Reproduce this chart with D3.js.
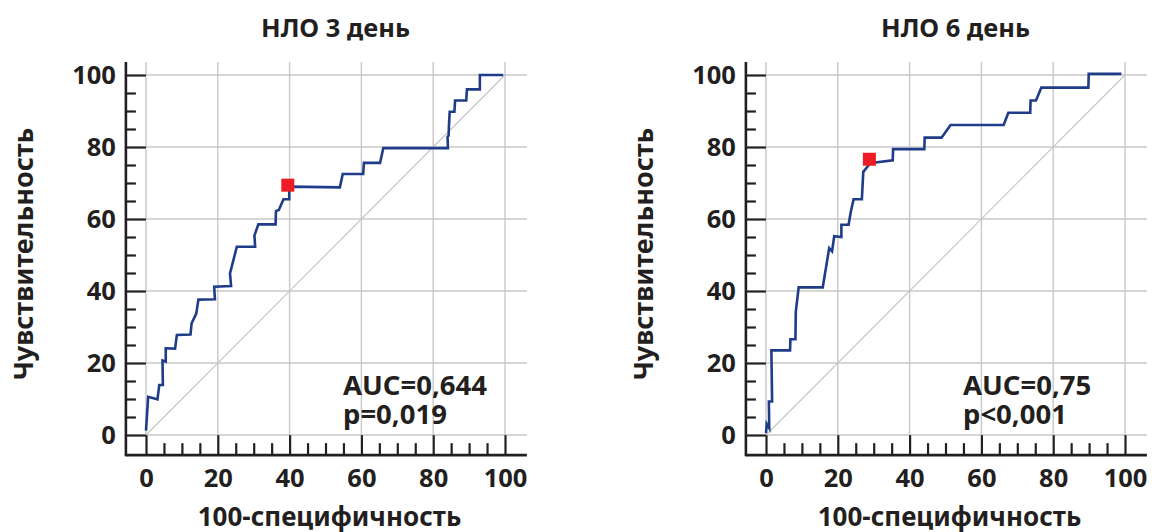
<!DOCTYPE html>
<html><head><meta charset="utf-8">
<script src="https://cdn.jsdelivr.net/npm/d3@7"></script>
<style>
html,body{margin:0;padding:0;background:#fff;}
svg{display:block;}
text{font-family:"Noto Sans","Open Sans",sans-serif;font-weight:700;fill:#231f20;}
</style></head>
<body>
<svg id="chart" width="1152" height="532"></svg>
<script>
// ---- data ----
const titles = ["НЛО 3 день", "НЛО 6 день"];
const xTitle = "100-специфичность";
const yTitle = "Чувствительность";
const majorTicks = [0, 20, 40, 60, 80, 100];
const minorTicks = [5, 10, 15, 25, 30, 35, 45, 50, 55, 65, 70, 75, 85, 90, 95];

const fpr3 = [0, 0.6, 3.2, 3.7, 4.7, 4.6, 5.5, 5.5, 8.1, 8.6, 12.4, 12.7, 14.0, 14.6, 19.2, 19.0, 23.7, 23.4, 25.3, 30.4, 30.2, 31.3, 36.1, 36.2, 37.0, 38.3, 39.9, 39.9, 54.0, 54.8, 60.5, 60.7, 65.2, 66.1, 84.1, 84.0, 84.3, 84.4, 84.6, 85.9, 86.1, 89.2, 89.4, 93.0, 93.0, 99.5];
const tpr3 = [1.2, 10.6, 9.9, 13.9, 13.9, 20.7, 20.4, 24.1, 24.0, 27.8, 27.9, 31.0, 33.7, 37.6, 37.7, 41.2, 41.4, 44.9, 52.3, 52.3, 55.4, 58.5, 58.5, 62.2, 62.5, 65.5, 65.5, 69.0, 68.8, 72.5, 72.5, 75.6, 75.6, 79.7, 79.7, 82.8, 83.2, 86.2, 89.8, 89.8, 92.9, 92.9, 96.0, 96.0, 100, 100];

const fpr6 = [0, 0.2, 0.9, 0.8, 1.7, 1.5, 6.7, 6.8, 8.2, 8.3, 9.1, 15.8, 17.6, 18.4, 19.0, 21.0, 21.0, 23.0, 23.6, 24.4, 26.7, 27.1, 28.8, 30.4, 35.3, 35.4, 44.1, 44.2, 48.9, 51.4, 66.2, 67.5, 73.6, 73.7, 75.2, 76.7, 89.8, 89.9, 99.0];
const tpr6 = [0.5, 3.1, 1.9, 9.3, 9.3, 23.5, 23.5, 26.6, 26.6, 34.3, 41.0, 41.0, 51.9, 51.0, 55.2, 55.0, 58.4, 58.4, 61.9, 65.5, 65.5, 73.1, 75.2, 75.7, 76.3, 79.4, 79.4, 82.6, 82.6, 86.1, 86.1, 89.5, 89.5, 92.9, 92.9, 96.5, 96.5, 100.3, 100.3];

const cutX = [39.5, 28.8];
const cutY = [69.4, 76.6];
const aucText = ["AUC=0,644", "AUC=0,75"];
const pText = ["p=0,019", "p<0,001"];

const fprs = [fpr3, fpr6];
const tprs = [tpr3, tpr6];

// ---- layout ----
const svg = d3.select("#chart");
const panelOffsets = [0, 620];
const xExtent = [-5.6, 106.1];
const yExtent = [-5.6, 103.6];
const ink = "#231f20";
const gridColor = "#c8c8c8";

panelOffsets.forEach((off, i) => {
  const x = d3.scaleLinear().domain([0, 100]).range([146 + off, 505 + off]);
  const y = d3.scaleLinear().domain([0, 100]).range([435, 75]);
  const g = svg.append("g");

  // grid
  g.append("g").selectAll("line.v").data(majorTicks).join("line")
    .attr("x1", d => x(d)).attr("x2", d => x(d))
    .attr("y1", y(0)).attr("y2", y(yExtent[1]))
    .attr("stroke", gridColor).attr("stroke-width", 1.4);
  g.append("g").selectAll("line.h").data(majorTicks).join("line")
    .attr("x1", x(0)).attr("x2", x(xExtent[1]))
    .attr("y1", d => y(d)).attr("y2", d => y(d))
    .attr("stroke", gridColor).attr("stroke-width", 1.4);

  // diagonal
  g.append("line")
    .attr("x1", x(0)).attr("y1", y(0)).attr("x2", x(100)).attr("y2", y(100))
    .attr("stroke", "#c4c4c4").attr("stroke-width", 1.1);

  // axes
  const axX = x(xExtent[0]);
  const axY = y(yExtent[0]);
  const yAxis = d3.axisLeft(y).tickValues(majorTicks).tickSizeInner(-20).tickSizeOuter(0).tickPadding(10).tickFormat(d3.format("d"));
  const yMinor = d3.axisLeft(y).tickValues(minorTicks).tickSizeInner(-10).tickSizeOuter(0).tickFormat("");
  const xAxis = d3.axisBottom(x).tickValues(majorTicks).tickSizeInner(-20).tickSizeOuter(0).tickPadding(14).tickFormat(d3.format("d"));
  const xMinor = d3.axisBottom(x).tickValues(minorTicks).tickSizeInner(-12).tickSizeOuter(0).tickFormat("");

  [ [yAxis, `translate(${axX},0)`], [yMinor, `translate(${axX},0)`],
    [xAxis, `translate(0,${axY})`], [xMinor, `translate(0,${axY})`] ].forEach(([ax, tr]) => {
    const a = g.append("g").attr("transform", tr).call(ax);
    a.select(".domain").remove();
    a.selectAll("line").attr("stroke", ink).attr("stroke-width", 2.2);
    a.selectAll("text").style("font-size", "25.5px").attr("fill", ink)
      .style("font-family", '"Noto Sans", sans-serif').style("font-weight", 700);
  });

  g.append("line").attr("x1", axX).attr("x2", axX).attr("y1", axY + 1.2).attr("y2", y(yExtent[1]))
    .attr("stroke", ink).attr("stroke-width", 2.6);
  g.append("line").attr("x1", axX).attr("x2", x(xExtent[1])).attr("y1", axY).attr("y2", axY)
    .attr("stroke", ink).attr("stroke-width", 2.6);

  // ROC curve
  const pts = fprs[i].map((v, k) => [v, tprs[i][k]]);
  g.append("path").datum(pts)
    .attr("d", d3.line().x(d => x(d[0])).y(d => y(d[1])))
    .attr("fill", "none").attr("stroke", "#1f3c8a").attr("stroke-width", 2.6)
    .attr("stroke-linejoin", "miter");

  // cutoff marker
  const ms = 13;
  g.append("rect")
    .attr("x", x(cutX[i]) - ms / 2).attr("y", y(cutY[i]) - ms / 2)
    .attr("width", ms).attr("height", ms).attr("fill", "#ed1c24");

  // texts
  const cx = (x(0) + x(100)) / 2;
  g.append("text").attr("x", cx + 10).attr("y", 37).attr("text-anchor", "middle")
    .style("font-size", "25.5px").text(titles[i]);
  g.append("text").attr("x", cx + 4).attr("y", 526).attr("text-anchor", "middle")
    .style("font-size", "26px").text(xTitle);
  g.append("text").attr("transform", `translate(${33 + off},254) rotate(-90)`).attr("text-anchor", "middle")
    .style("font-size", "27px").text(yTitle);
  const st = g.append("text").attr("x", x(0) + 197).attr("y", 395).style("font-size", "27.5px");
  st.append("tspan").attr("x", x(0) + 197).attr("y", 395).text(aucText[i]);
  st.append("tspan").attr("x", x(0) + 197).attr("y", 424).text(pText[i]);
});
</script>
</body></html>
